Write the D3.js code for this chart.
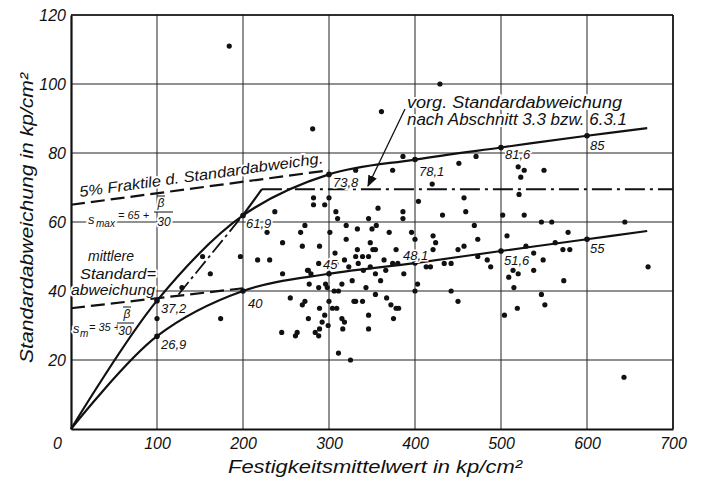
<!DOCTYPE html>
<html><head><meta charset="utf-8">
<script src="https://cdn.jsdelivr.net/npm/d3@7"></script>
<style>
html,body{margin:0;padding:0;background:#fff;}
svg{display:block;}
text{font-family:"Liberation Sans",Arial,sans-serif;font-style:italic;fill:#111;}
</style></head><body>
<div id="chart"></div>
<script>
// ---------- data ----------
const xTicks = [0,100,200,300,400,500,600,700];
const yTicks = [20,40,60,80,100,120];
const xTickLabels = ["0","100","200","300","400","500","600","700"];
const yTickLabels = ["20","40","60","80","100","120"];

const upperCurve = [[0,0],[100,37.2],[200,61.9],[300,73.8],[400,78.1],[500,81.6],[600,85],[670,87.2]];
const meanCurve  = [[0,0],[100,26.9],[200,40],[300,45],[400,48.1],[500,51.6],[600,55],[670,57.4]];
const fractileLine = [[0,65],[300,75]];
const meanLine = [[0,35],[200,40.8]];
const presetRise = [[125,39],[200,62]];
const presetKnee = [[200,62],[222,69.5]];
const presetFlat = [[222,69.5],[700,69.5]];

const labelledPoints = [[100,26.9,"26,9"],[100,37.2,"37,2"],[200,40,"40"],[200,61.9,"61,9"],
  [300,73.8,"73,8"],[400,78.1,"78,1"],[500,81.6,"81,6"],[600,85,"85"],
  [300,45,"45"],[400,48.1,"48,1"],[500,51.6,"51,6"],[600,55,"55"]];

const samplePoints = [
 [184,111],[281,87],[429,100],[361,92],
 [386,79],[374,75],[331,75],[451,77],[471,79],[520,76],[527,75],[523,73],[550,75],[420,71],[521,68],[404,66],[457,67],
 [282,67],[300,67],[282,65],[295,65],[357,64],[386,63],[386,61],[432,62],[459,63],[502,62],[527,62],[547,60],[559,60],[644,60],
 [308,63],[310,61],[237,63],[346,61],[272,59],[228,57],[267,57],[301,57],[320,59],[333,58],[350,58],[355,59],[370,57],[396,57],[400,55],[421,56],[424,54],[469,59],[473,55],[507,56],[578,57],[320,55],
 [246,54],[269,53],[289,53],[307,51],[333,52],[331,50],[318,49],[217,49],[231,49],[276,46],[288,48],[308,48],[323,47],[348,54],[351,52],[354,52],[378,52],[421,52],[450,52],[457,53],
 [339,50],[346,50],[334,48],[340,46],[348,47],[354,45],[364,49],[366,46],[374,48],[380,48],[387,45],[360,43],[343,41],[354,39],[367,38],[372,36],[378,35],[381,35],[375,32],[346,33],[346,29],[339,37],[331,37],[403,42],[400,40],[413,47],[418,47],[434,48],[442,48],[442,40],[450,37],
 [484,49],[488,47],[572,52],[580,52],[538,51],[549,49],[514,46],[509,44],[520,45],[538,46],[515,41],[573,43],[547,39],[551,36],[519,35],[504,33],[671,47],[643,15],[473,50],[529,53],[563,54],
 [246,45],[275,46],[279,45],[277,42],[288,41],[296,42],[298,41],[306,40],[311,40],[315,42],[327,43],[255,38],[272,37],[269,36],[300,37],[289,35],[304,35],[309,35],[329,37],[295,33],[276,32],[292,31],[299,30],[315,32],[318,31],[316,29],[245,28],[263,28],[261,27],[284,28],[289,29],[288,27],[311,22],[325,20],
 [197,50],[153,50],[162,45],[129,41],[100,32],[174,32]
];

// ---------- drawing ----------
const W = 701, H = 484;
const svg = d3.select("#chart").append("svg").attr("width", W).attr("height", H);
const x = d3.scaleLinear().domain([0,700]).range([71,673]);
const y = d3.scaleLinear().domain([0,120]).range([429,15]);

// grid
const grid = svg.append("g").attr("stroke","#222").attr("stroke-width",1);
grid.selectAll("line.v").data(xTicks.slice(1)).join("line")
  .attr("x1",d=>x(d)).attr("x2",d=>x(d)).attr("y1",y(0)).attr("y2",y(120));
grid.selectAll("line.h").data(yTicks).join("line")
  .attr("x1",x(0)).attr("x2",x(700)).attr("y1",d=>y(d)).attr("y2",d=>y(d));

// axes (d3 axes, styled like the drawing)
const xAxis = svg.append("g").attr("transform",`translate(0,${y(0)})`)
  .call(d3.axisBottom(x).tickValues(xTicks).tickSize(0).tickFormat((d,i)=>xTickLabels[i]));
xAxis.select(".domain").attr("stroke","#111").attr("stroke-width",2.2);
xAxis.selectAll("text").attr("font-size",16).attr("dy","1.05em")
  .attr("font-family","'Liberation Sans',Arial,sans-serif").attr("font-style","italic").attr("fill","#111");
xAxis.selectAll(".tick").filter(d=>d===0).select("text").attr("dx",-14);

const yAxis = svg.append("g").attr("transform",`translate(${x(0)},0)`)
  .call(d3.axisLeft(y).tickValues(yTicks).tickSize(0).tickPadding(5).tickFormat((d,i)=>yTickLabels[i]));
yAxis.select(".domain").attr("stroke","#111").attr("stroke-width",2.2);
yAxis.selectAll("text").attr("font-size",16)
  .attr("font-family","'Liberation Sans',Arial,sans-serif").attr("font-style","italic").attr("fill","#111");

svg.append("line").attr("x1",x(700)).attr("x2",x(700)).attr("y1",y(0)).attr("y2",y(120)).attr("stroke","#111").attr("stroke-width",1.6);
svg.append("line").attr("x1",x(0)).attr("x2",x(700)).attr("y1",y(120)).attr("y2",y(120)).attr("stroke","#111").attr("stroke-width",1.6);

// axis titles
svg.append("text").attr("transform",`translate(33,218) rotate(-90)`).attr("text-anchor","middle")
  .attr("font-size",19).attr("textLength",290).attr("lengthAdjust","spacingAndGlyphs")
  .text("Standardabweichung in kp/cm²");
svg.append("text").attr("x",375).attr("y",473).attr("text-anchor","middle")
  .attr("font-size",18).attr("textLength",294).attr("lengthAdjust","spacingAndGlyphs")
  .text("Festigkeitsmittelwert in kp/cm²");

// labels with white halo (they interrupt grid lines)
function halo(sel){ return sel.attr("stroke","#fff").attr("stroke-width",4).attr("paint-order","stroke").attr("stroke-linejoin","round"); }

// annotation texts (drawn before curves so curves stay on top)
const ann = svg.append("g");
halo(ann.append("text").attr("transform",`translate(80,197) rotate(-7.9)`).attr("font-size",15)
  .attr("textLength",246).attr("lengthAdjust","spacingAndGlyphs").text("5% Fraktile d. Standardabweichg."));
[["mittlere",111,261,46],["Standard=",118,279,76],["abweichung",113,295,84]].forEach(t=>{
  halo(ann.append("text").attr("x",t[1]).attr("y",t[2]).attr("text-anchor","middle").attr("font-size",15)
    .attr("textLength",t[3]).attr("lengthAdjust","spacingAndGlyphs").text(t[0]));
});
// s_max formula
const fm = ann.append("g");
halo(fm.append("text").attr("x",88).attr("y",224).attr("font-size",13).text("s"));
halo(fm.append("text").attr("x",96).attr("y",227).attr("font-size",10).text("max"));
halo(fm.append("text").attr("x",118).attr("y",219).attr("font-size",11).text("= 65 +"));
halo(fm.append("text").attr("x",161).attr("y",207).attr("text-anchor","middle").attr("font-size",12).text("β"));
fm.append("line").attr("x1",157).attr("x2",165).attr("y1",196).attr("y2",196).attr("stroke","#111");
fm.append("line").attr("x1",154).attr("x2",173).attr("y1",212).attr("y2",212).attr("stroke","#111");
halo(fm.append("text").attr("x",164).attr("y",226).attr("text-anchor","middle").attr("font-size",12).text("30"));
// s_m formula
halo(fm.append("text").attr("x",73).attr("y",333).attr("font-size",13).text("s"));
halo(fm.append("text").attr("x",80).attr("y",337).attr("font-size",10).text("m"));
halo(fm.append("text").attr("x",89).attr("y",331).attr("font-size",11).text("= 35 +"));
halo(fm.append("text").attr("x",127).attr("y",318).attr("text-anchor","middle").attr("font-size",12).text("β"));
fm.append("line").attr("x1",123).attr("x2",131).attr("y1",307).attr("y2",307).attr("stroke","#111");
fm.append("line").attr("x1",117).attr("x2",134).attr("y1",323).attr("y2",323).attr("stroke","#111");
halo(fm.append("text").attr("x",125).attr("y",335).attr("text-anchor","middle").attr("font-size",12).text("30"));

// preset std dev text
halo(ann.append("text").attr("x",407).attr("y",108).attr("font-size",16)
  .attr("textLength",215).attr("lengthAdjust","spacingAndGlyphs").text("vorg. Standardabweichung"));
halo(ann.append("text").attr("x",407).attr("y",125).attr("font-size",16)
  .attr("textLength",220).attr("lengthAdjust","spacingAndGlyphs").text("nach Abschnitt 3.3 bzw. 6.3.1"));

// curves
const line = d3.line().x(d=>x(d[0])).y(d=>y(d[1]));
const smooth = d3.line().x(d=>x(d[0])).y(d=>y(d[1])).curve(d3.curveCatmullRom.alpha(0.5));
const cg = svg.append("g").attr("fill","none").attr("stroke","#111").attr("stroke-width",2.2);
cg.append("path").attr("d",smooth(upperCurve));
cg.append("path").attr("d",smooth(meanCurve));
cg.append("path").attr("d",line(fractileLine)).attr("stroke-dasharray","14,6");
cg.append("path").attr("d",line(meanLine)).attr("stroke-dasharray","14,6");
cg.append("path").attr("d",line(presetRise)).attr("stroke-dasharray","16,4,3,4").attr("stroke-width",1.8);
cg.append("path").attr("d",line(presetKnee));
cg.append("path").attr("d",line(presetFlat)).attr("stroke-dasharray","20,5,3,5").attr("stroke-width",2);

// arrow
svg.append("defs").append("marker").attr("id","ah").attr("viewBox","0 0 10 10").attr("refX",9).attr("refY",5)
  .attr("markerWidth",9).attr("markerHeight",9).attr("orient","auto-start-reverse")
  .append("path").attr("d","M0,1 L10,5 L0,9 Z").attr("fill","#111");
svg.append("line").attr("x1",405).attr("y1",109).attr("x2",368).attr("y2",186)
  .attr("stroke","#111").attr("stroke-width",1.3).attr("marker-end","url(#ah)");

// scatter points
svg.append("g").selectAll("circle").data(samplePoints).join("circle")
  .attr("cx",d=>x(d[0])).attr("cy",d=>y(d[1])).attr("r",2.6).attr("fill","#111");

// labelled points on the curves
svg.append("g").selectAll("circle").data(labelledPoints).join("circle")
  .attr("cx",d=>x(d[0])).attr("cy",d=>y(d[1])).attr("r",2.8).attr("fill","#111");
const offs = {"26,9":[4,13],"37,2":[4,12],"40":[5,17],"61,9":[3,13],"73,8":[4,13],"78,1":[4,16],
  "81,6":[4,12],"85":[3,14],"45":[-6,-5],"48,1":[-12,-3],"51,6":[3,14],"55":[3,14]};
svg.append("g").selectAll("text").data(labelledPoints).join("text")
  .attr("x",d=>x(d[0])+offs[d[2]][0]).attr("y",d=>y(d[1])+offs[d[2]][1])
  .attr("font-size",13).text(d=>d[2])
  .attr("stroke","#fff").attr("stroke-width",3).attr("paint-order","stroke");
</script>
</body></html>
